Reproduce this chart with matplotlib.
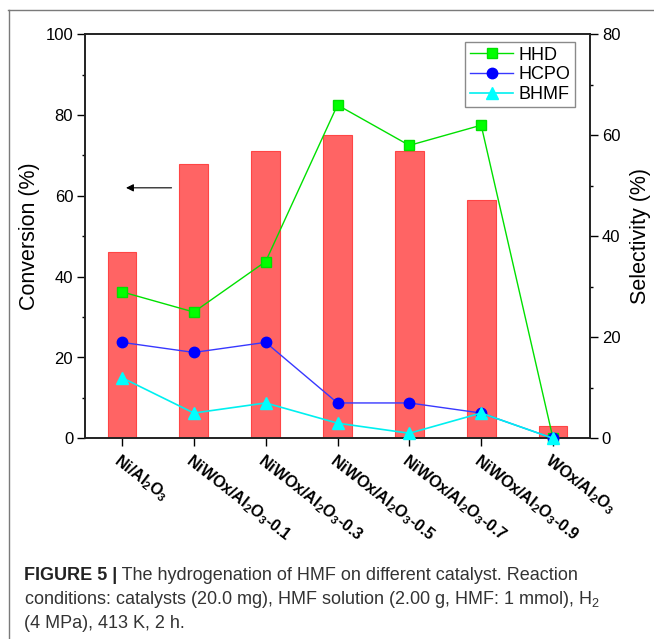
import matplotlib
matplotlib.use('Agg')
import matplotlib.pyplot as plt
from matplotlib.lines import Line2D
from matplotlib.ticker import MultipleLocator

plt.rcParams['font.family'] = ['Liberation Sans', 'DejaVu Sans']

categories = ['Ni/Al$\\mathregular{_2}$O$\\mathregular{_3}$',
              'NiWOx/Al$\\mathregular{_2}$O$\\mathregular{_3}$-0.1',
              'NiWOx/Al$\\mathregular{_2}$O$\\mathregular{_3}$-0.3',
              'NiWOx/Al$\\mathregular{_2}$O$\\mathregular{_3}$-0.5',
              'NiWOx/Al$\\mathregular{_2}$O$\\mathregular{_3}$-0.7',
              'NiWOx/Al$\\mathregular{_2}$O$\\mathregular{_3}$-0.9',
              'WOx/Al$\\mathregular{_2}$O$\\mathregular{_3}$']
conversion = [46, 68, 71, 75, 71, 59, 3]
hhd = [29, 25, 35, 66, 58, 62, 0]
hcpo = [19, 17, 19, 7, 7, 5, 0]
bhmf = [12, 5, 7, 3, 1, 5, 0]

W, H = 654, 639
fig = plt.figure(figsize=(W / 100, H / 100), dpi=100)
ax = fig.add_axes([85 / W, 1 - 438.3 / H, 505 / W, 404 / H])
x = list(range(len(categories)))
ax.bar(x, conversion, width=0.4, color='#ff6464', edgecolor='#ff4545', linewidth=0.8, zorder=2)
ax.set_xlim(-0.515, 6.515)
ax.set_ylim(0, 100)
ax.yaxis.set_major_locator(MultipleLocator(20))
ax.yaxis.set_minor_locator(MultipleLocator(10))
ax.set_xticks(x)
ax.set_xticklabels(categories, rotation=-38, rotation_mode='anchor', ha='left', va='top',
                   fontsize=11.5, fontweight='bold')
ax.tick_params(axis='x', which='major', direction='out', length=5.5, width=1.0, pad=4)
ax.tick_params(axis='y', which='major', direction='out', length=5.5, width=1.0, labelsize=12, pad=3)
ax.tick_params(axis='y', which='minor', direction='out', length=2.5, width=1.0)
ax.set_ylabel('Conversion (%)', fontsize=15.5)
ax.yaxis.set_label_coords((40 - 85) / 505, 0.5)
for s in ax.spines.values():
    s.set_linewidth(1.2)
    s.set_color('#222222')

ax.annotate('', xy=(0.056, 62), xytext=(0.69, 62),
            arrowprops=dict(arrowstyle='-|>', color='black', lw=0.8, mutation_scale=11,
                            shrinkA=0, shrinkB=0))

ax2 = ax.twinx()
ax2.set_ylim(0, 80)
ax2.yaxis.set_major_locator(MultipleLocator(20))
ax2.yaxis.set_minor_locator(MultipleLocator(10))
ax2.tick_params(axis='y', which='major', direction='out', length=5.5, width=1.0, labelsize=12, pad=3)
ax2.tick_params(axis='y', which='minor', direction='out', length=2.5, width=1.0)
ax2.set_ylabel('Selectivity (%)', fontsize=15.5)
ax2.yaxis.set_label_coords((630 - 85) / 505, 0.5)
for s in ax2.spines.values():
    s.set_linewidth(1.2)
    s.set_color('#222222')

l1, = ax2.plot(x, hhd, color='#00e000', lw=1.0, marker='s', ms=6.5,
               mfc='#00ff00', mec='#00e000', label='HHD', zorder=3)
l2, = ax2.plot(x, hcpo, color='#3838ff', lw=1.0, marker='o', ms=7.5,
               mfc='#0000ff', mec='#0000ff', label='HCPO', zorder=4)
l3, = ax2.plot(x, bhmf, color='#00f0f0', lw=1.2, marker='^', ms=8,
               mfc='#00ffff', mec='#00ffff', label='BHMF', zorder=5)
for ln in (l1, l2, l3):
    ln.set_clip_on(False)

leg = ax2.legend(handles=[l1, l2, l3], loc='upper right',
                 bbox_to_anchor=(575 / W, 1 - 42 / H), bbox_transform=fig.transFigure,
                 fontsize=13, handlelength=2.4, handletextpad=0.3, borderpad=0.25,
                 labelspacing=0.15, borderaxespad=0, fancybox=False, framealpha=1)
leg.get_frame().set_edgecolor('#8a8a8a')
leg.get_frame().set_linewidth(1.0)

# figure frame lines
fig.add_artist(Line2D([8 / W, 1], [1 - 10 / H, 1 - 10 / H], transform=fig.transFigure,
                      color='#7a7a7a', lw=1.0))
fig.add_artist(Line2D([9 / W, 9 / W], [0, 1 - 10 / H], transform=fig.transFigure,
                      color='#7a7a7a', lw=1.0))

# caption
cap_size = 13
fig.canvas.draw()
r = fig.canvas.get_renderer()
t1 = fig.text(24 / W, 1 - 580 / H, 'FIGURE 5 |', fontsize=cap_size, fontweight='bold',
              va='baseline', ha='left', color='#222222')
bb = t1.get_window_extent(renderer=r)
fig.text(bb.x1 / W, 1 - 580 / H, ' The hydrogenation of HMF on different catalyst. Reaction',
         fontsize=cap_size, va='baseline', ha='left', color='#333333')
fig.text(24 / W, 1 - 604 / H,
         'conditions: catalysts (20.0 mg), HMF solution (2.00 g, HMF: 1 mmol), H$\\mathregular{_2}$',
         fontsize=cap_size, va='baseline', ha='left', color='#333333')
fig.text(24 / W, 1 - 628 / H, '(4 MPa), 413 K, 2 h.',
         fontsize=cap_size, va='baseline', ha='left', color='#333333')

fig.savefig('out.png', dpi=100)
